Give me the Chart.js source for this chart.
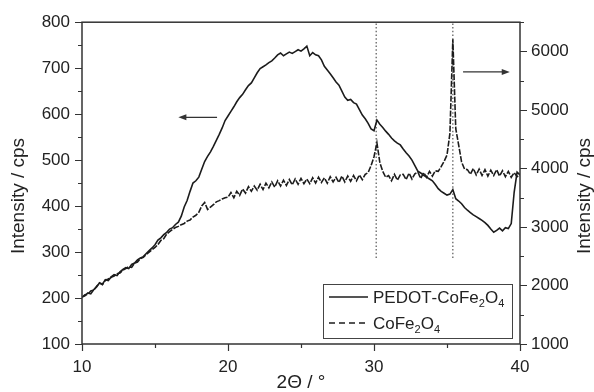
<!DOCTYPE html>
<html><head><meta charset="utf-8">
<script src="https://cdn.jsdelivr.net/npm/chart.js@4"></script>
<style>html,body{margin:0;padding:0;background:#fff;}canvas{display:block;}</style>
</head><body>
<canvas id="c" width="594" height="392"></canvas>
<script>
// ---- data ----
const twoTheta = [
10.0,10.2,10.4,10.6,10.8,11.0,11.2,11.4,11.6,11.8,
12.0,12.2,12.4,12.6,12.8,13.0,13.2,13.4,13.6,13.8,
14.0,14.2,14.4,14.6,14.8,15.0,15.2,15.4,15.6,15.8,
16.0,16.2,16.4,16.6,16.8,17.0,17.2,17.4,17.6,17.8,
18.0,18.2,18.4,18.6,18.8,19.0,19.2,19.4,19.6,19.8,
20.0,20.2,20.4,20.6,20.8,21.0,21.2,21.4,21.6,21.8,
22.0,22.2,22.4,22.6,22.8,23.0,23.2,23.4,23.6,23.8,
24.0,24.2,24.4,24.6,24.8,25.0,25.2,25.4,25.6,25.8,
26.0,26.2,26.4,26.6,26.8,27.0,27.2,27.4,27.6,27.8,
28.0,28.2,28.4,28.6,28.8,29.0,29.2,29.4,29.6,29.8,
30.0,30.2,30.4,30.6,30.8,31.0,31.2,31.4,31.6,31.8,
32.0,32.2,32.4,32.6,32.8,33.0,33.2,33.4,33.6,33.8,
34.0,34.2,34.4,34.6,34.8,35.0,35.2,35.4,35.6,35.8,
36.0,36.2,36.4,36.6,36.8,37.0,37.2,37.4,37.6,37.8,
38.0,38.2,38.4,38.6,38.8,39.0,39.2,39.4,39.6,39.8,
40.0];
// PEDOT-CoFe2O4, left axis (cps)
const pedotCoFe2O4 = [
202,205,211,209,218,224,233,230,240,238,
246,251,249,257,262,266,264,273,276,283,
287,290,297,303,309,316,326,331,338,343,
350,353,360,365,378,398,412,432,450,455,
463,480,497,508,518,530,543,556,570,586,
596,606,616,627,636,643,653,662,668,679,
690,699,703,707,712,716,722,729,733,727,
731,735,732,736,740,737,742,748,727,734,
729,727,718,704,696,688,679,670,663,650,
637,630,632,625,622,610,598,590,580,568,
564,587,578,571,563,556,548,542,537,533,
524,516,509,500,488,476,472,467,463,459,
455,447,438,432,428,424,426,436,416,411,
405,397,391,386,381,377,373,369,364,358,
350,343,347,352,346,353,351,362,430,474,
468];
// CoFe2O4, right axis (cps)
const cofe2O4 = [
1800,1840,1850,1905,1920,1985,2040,2015,2090,2110,
2140,2160,2200,2215,2260,2290,2320,2310,2380,2400,
2460,2480,2530,2570,2610,2650,2700,2770,2800,2880,
2920,2960,2990,3010,3040,3060,3100,3120,3170,3200,
3250,3360,3420,3300,3340,3380,3430,3450,3480,3500,
3510,3590,3500,3610,3540,3650,3580,3690,3610,3700,
3630,3730,3640,3750,3670,3770,3680,3790,3700,3800,
3710,3810,3720,3820,3730,3830,3740,3820,3740,3840,
3750,3850,3760,3840,3750,3860,3770,3850,3760,3870,
3770,3870,3780,3880,3790,3890,3810,3900,3930,4050,
4200,4440,4100,3950,3850,3880,3790,3900,3800,3890,
3900,3810,3920,3820,3910,3940,3830,3930,3850,3950,
3870,3960,3950,4030,4120,4230,4600,6210,4680,4400,
4110,3990,3980,3900,4000,3890,3990,3880,3980,3870,
3970,3880,3980,3870,3960,3860,3950,3850,3930,3860,
3890];
const seriesNames = ['PEDOT-CoFe2O4', 'CoFe2O4'];
const reflexPositions = [30.15, 35.4];
const reflexRange = [2470, 6500];          // right-axis extent of the dotted reference lines
const xTickLabels = [10, 20, 30, 40];
const leftTickLabels = [100, 200, 300, 400, 500, 600, 700, 800];
const rightTickLabels = [1000, 2000, 3000, 4000, 5000, 6000];
const leftArrow = {from: 19.25, to: 16.6, level: 593};     // points to left axis
const rightArrow = {from: 36.1, to: 39.3, level: 5650};     // points to right axis

// ---- chart ----
const FONT = '"Liberation Sans", Arial, sans-serif';
const INK = '#1c1c1c';

const datasets = [
  { label: seriesNames[0], data: twoTheta.map((t,i)=>({x:t, y:pedotCoFe2O4[i]})), yAxisID:'y',
    borderColor: INK, borderWidth: 1.6, pointRadius: 0, tension: 0, fill:false },
  { label: seriesNames[1], data: twoTheta.map((t,i)=>({x:t, y:cofe2O4[i]})), yAxisID:'y2',
    borderColor: INK, borderWidth: 1.6, borderDash:[6,1.5], pointRadius: 0, tension: 0, fill:false },
];
reflexPositions.forEach(p => datasets.push({
  label: 'reflex', data: reflexRange.map(v=>({x:p, y:v})), yAxisID:'y2',
  borderColor:'#555', borderWidth:1.2, borderDash:[1.5,2.2], pointRadius:0, fill:false
}));

function subText(ctx, text, x, y, size) {
  // digits rendered as subscripts
  let cx = x;
  for (const ch of text) {
    const isSub = /[0-9]/.test(ch);
    ctx.font = (isSub ? Math.round(size*0.65) : size) + 'px ' + FONT;
    ctx.fillText(ch, cx, isSub ? y + size*0.25 : y);
    cx += ctx.measureText(ch).width;
  }
}

function arrow(ctx, x1, y1, x2, y2) {
  const dir = Math.sign(x2 - x1);
  ctx.beginPath(); ctx.moveTo(x1, y1); ctx.lineTo(x2 - dir*6, y2); ctx.stroke();
  ctx.beginPath(); ctx.moveTo(x2, y2); ctx.lineTo(x2 - dir*8, y2 - 3); ctx.lineTo(x2 - dir*8, y2 + 3); ctx.closePath(); ctx.fill();
}

const decor = {
  id: 'decor',
  afterDraw(chart) {
    const {ctx, chartArea: a, scales: {x, y, y2}} = chart;
    ctx.save();
    ctx.strokeStyle = '#333'; ctx.fillStyle = '#333';
    ctx.lineWidth = 1.5;
    ctx.strokeRect(a.left, a.top, a.right - a.left, a.bottom - a.top);
    // tick marks
    ctx.lineWidth = 1.2;
    ctx.beginPath();
    for (let v = 10; v <= 40; v += 5) {
      const px = Math.round(x.getPixelForValue(v)) + 0.5;
      const L = xTickLabels.includes(v) ? 7 : 4;
      ctx.moveTo(px, a.bottom); ctx.lineTo(px, a.bottom + L);
    }
    for (let v = 100; v <= 800; v += 50) {
      const py = Math.round(y.getPixelForValue(v)) + 0.5;
      const L = leftTickLabels.includes(v) ? 7 : 4;
      ctx.moveTo(a.left, py); ctx.lineTo(a.left - L, py);
    }
    for (let v = 1000; v <= 6500; v += 500) {
      const py = Math.round(y2.getPixelForValue(v)) + 0.5;
      const L = rightTickLabels.includes(v) ? 7 : 4;
      ctx.moveTo(a.right, py); ctx.lineTo(a.right + L, py);
    }
    ctx.stroke();
    // arrows
    ctx.lineWidth = 1.2;
    arrow(ctx, x.getPixelForValue(leftArrow.from), y.getPixelForValue(leftArrow.level),
               x.getPixelForValue(leftArrow.to), y.getPixelForValue(leftArrow.level));
    arrow(ctx, x.getPixelForValue(rightArrow.from), y2.getPixelForValue(rightArrow.level),
               x.getPixelForValue(rightArrow.to), y2.getPixelForValue(rightArrow.level));
    // axis titles
    ctx.fillStyle = '#222';
    ctx.font = '19px ' + FONT;
    ctx.textAlign = 'center'; ctx.textBaseline = 'middle';
    ctx.fillText('2\u0398 / \u00B0', (a.left + a.right) / 2, 383);
    ctx.save(); ctx.translate(19, 196); ctx.rotate(-Math.PI/2); ctx.fillText('Intensity / cps', 0, 0); ctx.restore();
    ctx.save(); ctx.translate(585, 196); ctx.rotate(-Math.PI/2); ctx.fillText('Intensity / cps', 0, 0); ctx.restore();
    // legend
    const bx2 = a.right - 8, by2 = a.bottom - 6, bw = 189, bh = 54;
    const bx = bx2 - bw, by = by2 - bh;
    ctx.lineWidth = 1; ctx.strokeStyle = '#444';
    ctx.strokeRect(Math.round(bx) + 0.5, Math.round(by) + 0.5, bw, bh);
    ctx.strokeStyle = INK; ctx.lineWidth = 1.4;
    const rows = [by + 13, by + 39];
    ctx.beginPath(); ctx.moveTo(bx + 6, rows[0]); ctx.lineTo(bx + 45, rows[0]); ctx.stroke();
    ctx.setLineDash([6, 4]);
    ctx.beginPath(); ctx.moveTo(bx + 6, rows[1]); ctx.lineTo(bx + 45, rows[1]); ctx.stroke();
    ctx.setLineDash([]);
    ctx.textAlign = 'left'; ctx.textBaseline = 'alphabetic'; ctx.fillStyle = '#222';
    subText(ctx, seriesNames[0], bx + 50, rows[0] + 6, 17);
    subText(ctx, seriesNames[1], bx + 50, rows[1] + 6, 17);
    ctx.restore();
  }
};

const fixTicks = list => s => { s.ticks = list.map(v => ({value: v})); };
const noGrid = { display: false, drawTicks: false };

new Chart(document.getElementById('c'), {
  type: 'line',
  data: { datasets },
  options: {
    responsive: false, animation: false, devicePixelRatio: 1,
    layout: { padding: { top: 22, left: 0, right: 0, bottom: 0 } },
    plugins: { legend: { display: false }, tooltip: { enabled: false } },
    scales: {
      x: { type: 'linear', position: 'bottom', min: 10, max: 40,
        afterBuildTicks: fixTicks(xTickLabels),
        afterFit: s => { s.height = 48; },
        grid: noGrid, border: { display: false },
        ticks: { autoSkip: false, maxRotation: 0, padding: 13, color: '#222',
          font: { family: FONT, size: 17 }, callback: v => String(v) } },
      y: { type: 'linear', position: 'left', min: 100, max: 800,
        afterBuildTicks: fixTicks(leftTickLabels),
        afterFit: s => { s.width = 82; },
        grid: noGrid, border: { display: false },
        ticks: { autoSkip: false, padding: 12, color: '#222',
          font: { family: FONT, size: 17 }, callback: v => String(v) } },
      y2: { type: 'linear', position: 'right', min: 1000, max: 6500,
        afterBuildTicks: fixTicks(rightTickLabels),
        afterFit: s => { s.width = 74; },
        grid: noGrid, border: { display: false },
        ticks: { autoSkip: false, padding: 11, color: '#222',
          font: { family: FONT, size: 17 }, callback: v => String(v) } }
    }
  },
  plugins: [decor]
});
</script>
</body></html>
